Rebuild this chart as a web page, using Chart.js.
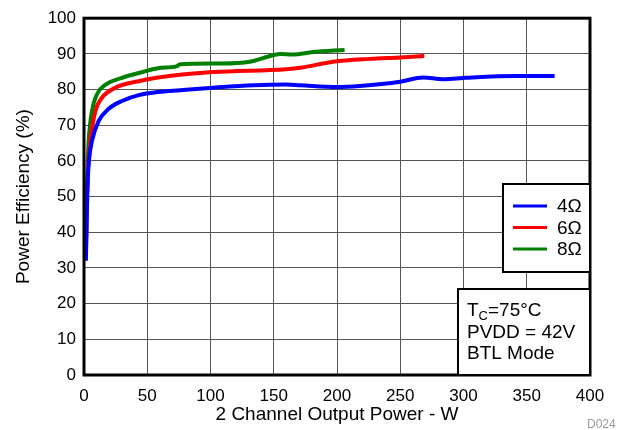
<!DOCTYPE html>
<html>
<head>
<meta charset="utf-8">
<script src="https://cdn.jsdelivr.net/npm/chart.js@4/dist/chart.umd.min.js"></script>
<style>
  body{margin:0;background:#fff}
  #wrap{width:629px;height:430px;position:relative}
</style>
</head>
<body>
<div id="wrap"><canvas id="grafica" width="629" height="430"></canvas></div>
<script>
// values
let xTicks = [0,50,100,150,200,250,300,350,400]
let yTicks = [0,10,20,30,40,50,60,70,80,90,100]

let labels = ['4\u03A9','6\u03A9','8\u03A9']
let colors = ['#0000ff','#ff0000','#008000']

let x4 = [1.5,2.2,3,4.2,6.3,11.6,19.5,30,44,58.5,76,102,134,160,171,200,218,250,268,284,302,342,372]
let y4 = [32,45,55,61,65.6,71.2,74.6,76.8,78.5,79.3,79.8,80.5,81.2,81.4,81.2,80.7,81,82.2,83.4,82.9,83.3,83.8,83.8]

let x6 = [1.5,2.2,3.2,5,9,14.2,24.7,44,58.5,102,160,171,197,226,250,269]
let y6 = [34,48,58,65.6,74,77.7,80.5,82.4,83.4,84.9,85.7,86.1,87.8,88.6,89,89.4]

let x8 = [1.5,2.2,2.8,3.7,6.3,10.3,16.8,30,44,58.5,73,76,107,131,150,155,165,181,206]
let y8 = [33,48,58,65.6,74,78.7,81.3,83.3,84.7,86,86.5,87.1,87.3,87.8,89.7,90,89.8,90.5,91.1]

const font = 'Liberation Sans, Arial, sans-serif'

function pts(xs,ys){
    return xs.map((x,i)=>({x:x,y:ys[i]}))
}
let series = [pts(x4,y4),pts(x6,y6),pts(x8,y8)]

let dataChart = {
    datasets: series.map((s,i)=>({
        label: labels[i],
        data: s,
        borderColor: colors[i],
        backgroundColor: colors[i],
        borderWidth: 4,
        pointRadius: 0,
        cubicInterpolationMode: 'monotone'
    }))
}

// frame, legend box, note box and figure id
const extras = {
    id: 'extras',
    afterDatasetsDraw(chart){
        let c = chart.ctx
        let a = chart.chartArea
        c.save()
        c.strokeStyle = '#000'
        c.lineWidth = 3
        c.strokeRect(a.left, a.top, a.right-a.left, a.bottom-a.top)

        // legend
        let lx = 503, ly = 184, lw = 87, lh = 88
        c.fillStyle = '#fff'
        c.fillRect(lx, ly, lw, lh)
        c.lineWidth = 2
        c.strokeRect(lx, ly, lw, lh)
        c.font = '19px ' + font
        c.textBaseline = 'middle'
        chart.data.datasets.forEach((d,i)=>{
            let yy = ly + 22 + i*21.5
            c.strokeStyle = d.borderColor
            c.lineWidth = 3
            c.beginPath()
            c.moveTo(lx+10, yy)
            c.lineTo(lx+44, yy)
            c.stroke()
            c.fillStyle = '#000'
            c.fillText(d.label, lx+54, yy+1)
        })

        // note
        let nx = 458, ny = 289, nw = 132, nh = 86
        c.fillStyle = '#fff'
        c.fillRect(nx, ny, nw, nh)
        c.strokeStyle = '#000'
        c.lineWidth = 2
        c.strokeRect(nx, ny, nw, nh)
        c.fillStyle = '#000'
        c.font = '19px ' + font
        c.textBaseline = 'middle'
        let tx = nx + 9
        c.fillText('T', tx, ny+22)
        let w = c.measureText('T').width
        c.font = '13px ' + font
        c.fillText('C', tx+w, ny+27)
        let w2 = c.measureText('C').width
        c.font = '19px ' + font
        c.fillText('=75\u00B0C', tx+w+w2, ny+22)
        c.fillText('PVDD = 42V', tx, ny+44)
        c.fillText('BTL Mode', tx, ny+65)

        c.fillStyle = '#9a9a9a'
        c.font = '12px ' + font
        c.fillText('D024', 587, 425)
        c.restore()
    }
}

let canvas = document.getElementById('grafica').getContext('2d')
window.chart = new Chart(canvas,{
    type: 'line',
    data: dataChart,
    plugins: [extras],
    options: {
        responsive: false,
        animation: false,
        events: [],
        layout: {padding: {left:0, top:17, right:39, bottom:4}},
        plugins: {legend:{display:false}, tooltip:{enabled:false}},
        scales: {
            x: {
                type: 'linear',
                min: 0, max: 400,
                afterBuildTicks: s => { s.ticks = xTicks.map(v=>({value:v})) },
                afterFit: s => { s.height = 51 },
                grid: {color:'#555', lineWidth:1, drawTicks:false},
                border: {display:false},
                ticks: {color:'#000', padding:11, font:{family:font, size:17}},
                title: {display:true, text:'2 Channel Output Power - W', color:'#000',
                        padding:{top:0,bottom:0}, font:{family:font, size:19}}
            },
            y: {
                min: 0, max: 100,
                afterBuildTicks: s => { s.ticks = yTicks.map(v=>({value:v})) },
                afterFit: s => { s.width = 84 },
                grid: {color:'#555', lineWidth:1, drawTicks:false},
                border: {display:false},
                ticks: {color:'#000', padding:8, font:{family:font, size:17}},
                title: {display:true, text:'Power Efficiency (%)', color:'#000',
                        padding:{top:12,bottom:0}, font:{family:font, size:19}}
            }
        }
    }
})
</script>
</body>
</html>
